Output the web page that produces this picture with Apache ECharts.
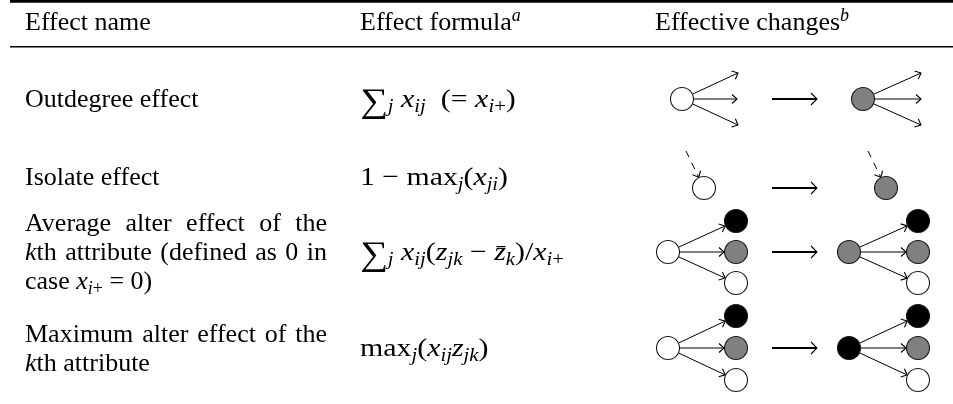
<!DOCTYPE html>
<html>
<head>
<meta charset="utf-8">
<script src="https://cdn.jsdelivr.net/npm/echarts@6/dist/echarts.min.js"></script>
<style>
  html, body { margin: 0; padding: 0; background: #fff; }
  #main { width: 953px; height: 404px; }
</style>
</head>
<body>
<div id="main"></div>
<script>
// ---- table text ----
const headers = ['Effect name', 'Effect formula{sup|a}', 'Effective changes{sup|b}'];
const effectNames = [
  ['Outdegree effect'],
  ['Isolate effect'],
  ['Average alter effect of the', '{it|k}th attribute (defined as 0 in', 'case {it|x}{sub|i}{subrm|+} = 0)'],
  ['Maximum alter effect of the', '{it|k}th attribute']
];
const formulas = [
  '{sum|∑}{sub|j} {it|x}{sub|ij}  (= {it|x}{sub|i}{subrm|+})',
  '1 − max{sub|j}({it|x}{sub|ji})',
  '{sum|∑}{sub|j} {it|x}{sub|ij}({it|z}{sub|jk} − {it|z̄}{sub|k})/{it|x}{sub|i}{subrm|+}',
  'max{sub|j}({it|x}{sub|ij}{it|z}{sub|jk})'
];

// ---- diagram data (page units) ----
// [x, y, attribute level]  0 = low (white), 1 = mid (grey), 2 = high (black)
const nodes = [
  [682, 99, 0], [863, 99, 1],
  [704, 188, 0], [886, 188, 1],
  [668, 252, 0], [736, 221, 2], [736, 252, 1], [736, 283, 0],
  [849, 252, 1], [918, 221, 2], [918, 252, 1], [918, 283, 0],
  [668, 348, 0], [736, 316, 2], [736, 348, 1], [736, 380, 0],
  [849, 348, 2], [918, 316, 2], [918, 348, 1], [918, 380, 0]
];
// outgoing ties to unnamed alters: [from node, tip x, tip y]
const ties = [
  [0, 738, 73], [0, 737, 99], [0, 738, 125],
  [1, 921, 73], [1, 921, 99], [1, 921, 125]
];
// ties between nodes: [from, to]
const edges = [
  [4, 5], [4, 6], [4, 7], [8, 9], [8, 10], [8, 11],
  [12, 13], [12, 14], [12, 15], [16, 17], [16, 18], [16, 19]
];
// possible incoming ties: [start x, start y, to node]
const dashedTies = [[686, 151, 2], [868, 151, 3]];
// "changes into" arrows: [x from, x to, y]
const changeArrows = [[772, 817, 99], [772, 817, 188], [772, 817, 252], [772, 817, 348]];

// ---- styling / layout ----
const FAM = "'Liberation Serif', 'DejaVu Serif', serif";
const FS = 26;
const levelColor = ['#ffffff', '#808080', '#000000'];
const nodeSize = 23;

function tok(size, italic, pad) {
  const fst = italic ? 'italic' : 'normal';
  const s = {
    font: fst + ' ' + size + 'px ' + FAM,
    fontFamily: FAM, fontSize: size, fontStyle: fst, fill: '#000'
  };
  if (pad) s.padding = pad;
  return s;
}
const rich = {
  rm: tok(FS, false),
  it: tok(FS, true),
  sub: tok(18, true, [15, 0, 0, 0]),
  subrm: tok(18, false, [15, 0, 0, 0]),
  sup: tok(18, true, [0, 0, 13, 0]),
  sum: tok(34, false, [6, 0, 0, 0])
};

const ctx = document.createElement('canvas').getContext('2d');
function measure(str) {
  let w = 0;
  const re = /\{(\w+)\|([^}]*)\}|([^{]+)/g;
  let m;
  while ((m = re.exec(str))) {
    const st = m[1] ? rich[m[1]] : rich.rm;
    ctx.font = st.font;
    w += ctx.measureText(m[1] ? m[2] : m[3]).width;
  }
  return w;
}

function text(x, base, str, sx) {
  return {
    type: 'text', x: x, y: base - 8.8, scaleX: sx || 1, silent: true,
    style: Object.assign({}, rich.rm, {
      text: str, rich: rich, lineHeight: 30, verticalAlign: 'middle', align: 'left'
    })
  };
}
// justified line: spread words across the column
function justified(x0, width, base, str) {
  const words = str.split(' ');
  const ws = words.map(measure);
  const gap = (width - ws.reduce((a, b) => a + b, 0)) / (words.length - 1);
  const out = [];
  let x = x0;
  words.forEach((w, i) => { out.push(text(x, base, w)); x += ws[i] + gap; });
  return out;
}

const colX = [25, 360, 655];
const colWidth = 302;
const headBase = 32;
const nameBases = [[109], [187], [233, 262, 291], [344, 373]];
const formulaBases = [109, 187, 262, 358];
const formulaWidths = [160, 148, 223, 137];

const graphics = [
  { type: 'line', silent: true, shape: { x1: 10, y1: 1.4, x2: 953, y2: 1.4 }, style: { stroke: '#000', lineWidth: 2.8 } },
  { type: 'line', silent: true, shape: { x1: 10, y1: 46.8, x2: 953, y2: 46.8 }, style: { stroke: '#000', lineWidth: 1.6 } }
];
headers.forEach((h, i) => graphics.push(text(colX[i], headBase, h)));
effectNames.forEach((lines, r) => {
  lines.forEach((ln, k) => {
    const base = nameBases[r][k];
    if (k < lines.length - 1) graphics.push(...justified(colX[0], colWidth, base, ln));
    else graphics.push(text(colX[0], base, ln));
  });
});
formulas.forEach((f, r) => {
  const sx = Math.min(1.15, formulaWidths[r] / measure(f));
  graphics.push(text(colX[1], formulaBases[r], f, sx));
});

// ---- arrow drawing ----
function arrowRenderer(lineWidth, headLen, headHalf, dash) {
  return function (params, api) {
    const p1 = api.coord([api.value(0), api.value(1)]);
    const p2 = api.coord([api.value(2), api.value(3)]);
    let dx = p2[0] - p1[0], dy = p2[1] - p1[1];
    const len = Math.hypot(dx, dy);
    dx /= len; dy /= len;
    const r = nodeSize / 2 + 0.5;
    const s = api.value(4) ? r : 0, e = api.value(5) ? r : 0;
    const a = [p1[0] + dx * s, p1[1] + dy * s];
    const b = [p2[0] - dx * e, p2[1] - dy * e];
    const bk = [b[0] - dx * headLen, b[1] - dy * headLen];
    const h1 = [bk[0] - dy * headHalf, bk[1] + dx * headHalf];
    const h2 = [bk[0] + dy * headHalf, bk[1] - dx * headHalf];
    return {
      type: 'group',
      children: [
        { type: 'line', shape: { x1: a[0], y1: a[1], x2: b[0] - dx * 0.5, y2: b[1] - dy * 0.5 },
          style: { stroke: '#000', lineWidth: lineWidth, lineDash: dash || null } },
        { type: 'polyline', shape: { points: [h1, b, h2] },
          style: { stroke: '#000', lineWidth: 1.1, fill: null } }
      ]
    };
  };
}

const tieData = ties.map(t => [nodes[t[0]][0], nodes[t[0]][1], t[1], t[2], 1, 0])
  .concat(edges.map(e => [nodes[e[0]][0], nodes[e[0]][1], nodes[e[1]][0], nodes[e[1]][1], 1, 1]));
const dashedData = dashedTies.map(d => [d[0], d[1], nodes[d[2]][0], nodes[d[2]][1], 0, 1]);
const changeData = changeArrows.map(c => [c[0], c[2], c[1], c[2], 0, 0]);

const chart = echarts.init(document.getElementById('main'), null, { renderer: 'canvas' });
chart.setOption({
  animation: false,
  backgroundColor: '#fff',
  grid: { left: 0, right: 0, top: 0, bottom: 0 },
  xAxis: { type: 'value', min: 0, max: 953, show: false },
  yAxis: { type: 'value', min: 0, max: 404, inverse: true, show: false },
  series: [
    {
      type: 'custom', silent: true, clip: false,
      renderItem: arrowRenderer(1, 5, 4.5),
      encode: { x: [0, 2], y: [1, 3] },
      data: tieData
    },
    {
      type: 'custom', silent: true, clip: false,
      renderItem: arrowRenderer(1, 5, 4.5, [7, 6]),
      encode: { x: [0, 2], y: [1, 3] },
      data: dashedData
    },
    {
      type: 'custom', silent: true, clip: false,
      renderItem: arrowRenderer(2, 6, 6),
      encode: { x: [0, 2], y: [1, 3] },
      data: changeData
    },
    {
      type: 'scatter', silent: true, symbol: 'circle', symbolSize: nodeSize,
      itemStyle: { borderColor: '#1a1a1a', borderWidth: 1.1, opacity: 1 },
      data: nodes.map(n => ({ value: [n[0], n[1]], itemStyle: { color: levelColor[n[2]] } }))
    }
  ],
  graphic: graphics
});
</script>
</body>
</html>
